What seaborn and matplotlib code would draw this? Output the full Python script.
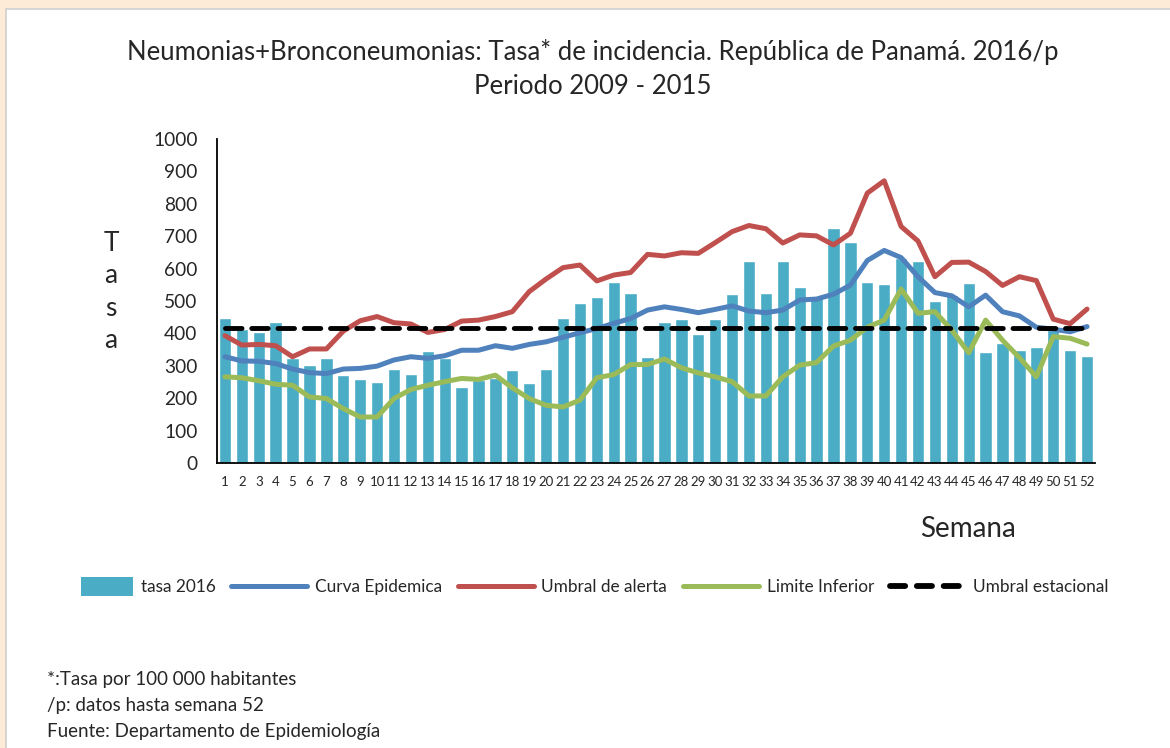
import numpy as np
import pandas as pd
import matplotlib
matplotlib.use("Agg")
import matplotlib.pyplot as plt
import seaborn as sns
from matplotlib.patches import Rectangle, Patch
from matplotlib.lines import Line2D
from matplotlib.legend_handler import HandlerPatch

# Datos (tasa por 100 000 hab.)
semanas = list(range(1, 53))
tasa_2016 = [446, 415, 405, 434, 325, 304, 323, 271, 258, 250,
             290, 275, 347, 323, 234, 255, 262, 288, 246, 290,
             449, 493, 513, 558, 524, 326, 434, 443, 398, 445,
             522, 624, 524, 624, 544, 513, 724, 681, 560, 553,
             632, 625, 500, 517, 555, 343, 371, 349, 358, 410,
             349, 331]
curva_epidemica = [328, 315, 314, 307, 290, 279, 276, 290, 292, 299,
                   318, 328, 323, 331, 348, 348, 362, 354, 366, 374,
                   388, 402, 415, 431, 446, 472, 482, 474, 464, 474,
                   485, 469, 464, 472, 503, 506, 521, 549, 625, 656,
                   634, 575, 526, 516, 482, 518, 467, 454, 419, 413,
                   405, 421]
umbral_alerta = [393, 364, 366, 362, 328, 352, 352, 407, 439, 452,
                 433, 429, 403, 412, 438, 441, 452, 467, 529, 568,
                 603, 611, 562, 580, 588, 644, 639, 649, 647, 680,
                 714, 733, 723, 679, 704, 701, 673, 709, 833, 871,
                 730, 685, 575, 619, 620, 591, 548, 575, 563, 444,
                 430, 475]
limite_inferior = [266, 263, 254, 243, 240, 204, 199, 168, 142, 142,
                   199, 227, 240, 251, 261, 258, 271, 232, 199, 178,
                   173, 194, 263, 273, 304, 304, 321, 294, 278, 266,
                   251, 207, 207, 266, 302, 310, 361, 379, 419, 441,
                   537, 462, 467, 410, 340, 441, 379, 325, 266, 390,
                   385, 367]
umbral_estacional = [417] * 52

df = pd.DataFrame({
    "semana": semanas,
    "tasa": tasa_2016,
    "curva": curva_epidemica,
    "alerta": umbral_alerta,
    "inferior": limite_inferior,
    "estacional": umbral_estacional,
})

c_barra = "#4BACC6"
c_azul = "#4F81BD"
c_rojo = "#C0504D"
c_verde = "#9BBB59"

sns.set_style("white")
plt.rcParams["font.family"] = ["Lato", "DejaVu Sans"]

fig = plt.figure(figsize=(11.7, 7.48), dpi=100)
fig.patch.set_facecolor("#FDEBD7")
# panel blanco detras de todo
fig.patches.append(Rectangle((6 / 1170, -0.01), 1.0, 1 - 9 / 748 + 0.01, transform=fig.transFigure,
                             facecolor="white", edgecolor="#D0D0D0", lw=1.2, zorder=-5))

ax = fig.add_axes([217 / 1170, 1 - 463 / 748, 878 / 1170, 324 / 748])
ax.set_facecolor("none")
ax.set_zorder(2)

sns.barplot(data=df, x="semana", y="tasa", native_scale=True, color=c_barra,
            width=0.73, saturation=1, ax=ax, zorder=2)
sns.lineplot(data=df, x="semana", y="curva", color=c_azul, lw=3.6, ax=ax, zorder=3)
sns.lineplot(data=df, x="semana", y="alerta", color=c_rojo, lw=3.6, ax=ax, zorder=3)
sns.lineplot(data=df, x="semana", y="inferior", color=c_verde, lw=3.6, ax=ax, zorder=3)
sns.lineplot(data=df, x="semana", y="estacional", color="black", lw=3.5, ax=ax,
             zorder=4, dashes=False)
ax.lines[-1].set_dashes((3.4, 2.0))
ax.lines[-1].set_dash_capstyle("round")

ax.set_xlim(0.53, 52.47)
ax.set_ylim(0, 1000)
ax.set_yticks(range(0, 1001, 100))
ax.set_xticks(semanas)
ax.set_xticklabels([str(s) for s in semanas], fontsize=9.5)
ax.tick_params(axis="y", labelsize=13.8, length=0, pad=14)
ax.tick_params(axis="x", length=0, pad=9)
ax.set_xlabel("")
ax.set_ylabel("")
for s in ["top", "right"]:
    ax.spines[s].set_visible(False)
for s in ["left", "bottom"]:
    ax.spines[s].set_color("black")
    ax.spines[s].set_linewidth(1.3)

fig.text(593 / 1170, 1 - 52 / 748, "Neumonias+Bronconeumonias: Tasa* de incidencia. República de Panamá. 2016/p",
         ha="center", va="center", fontsize=18.5)
fig.text(593 / 1170, 1 - 86 / 748, "Periodo 2009 - 2015", ha="center", va="center", fontsize=18.5)

for i, letra in enumerate("Tasa"):
    fig.text(111 / 1170, 1 - (243 + i * 32.5) / 748, letra, ha="center", va="center", fontsize=19)
fig.text(968 / 1170, 1 - 529 / 748, "Semana", ha="center", va="center", fontsize=20)


# el cuadro de la barra en la leyenda es mas corto que las lineas
def cuadro_barra(legend, orig_handle, xdescent, ydescent, width, height, fontsize):
    w = width * 0.68
    return Rectangle((width - w - xdescent, -ydescent - 0.1 * height), w, height * 1.2)


handles = [
    Patch(facecolor=c_barra, edgecolor="none"),
    Line2D([], [], color=c_azul, lw=3.6),
    Line2D([], [], color=c_rojo, lw=3.6),
    Line2D([], [], color=c_verde, lw=3.6),
    Line2D([], [], color="black", lw=4.2, dashes=(2.6, 2.0), dash_capstyle="round"),
]
labels = ["tasa 2016", "Curva Epidemica", "Umbral de alerta", "Limite Inferior", "Umbral estacional"]
fig.legend(handles, labels, loc="center", bbox_to_anchor=(583 / 1170, 1 - 587 / 748), ncol=5,
           frameon=False, fontsize=12.4, handlelength=4.4, handleheight=1.0,
           columnspacing=0.92, handletextpad=0.45,
           handler_map={Patch: HandlerPatch(patch_func=cuadro_barra)})

notas = ["*:Tasa por 100 000 habitantes", "/p: datos hasta semana 52",
         "Fuente: Departamento de Epidemiología"]
for i, t in enumerate(notas):
    fig.text(47 / 1170, 1 - (679 + i * 26) / 748, t, ha="left", va="center", fontsize=13.5)

fig.savefig("out.png", dpi=100, facecolor=fig.get_facecolor())
